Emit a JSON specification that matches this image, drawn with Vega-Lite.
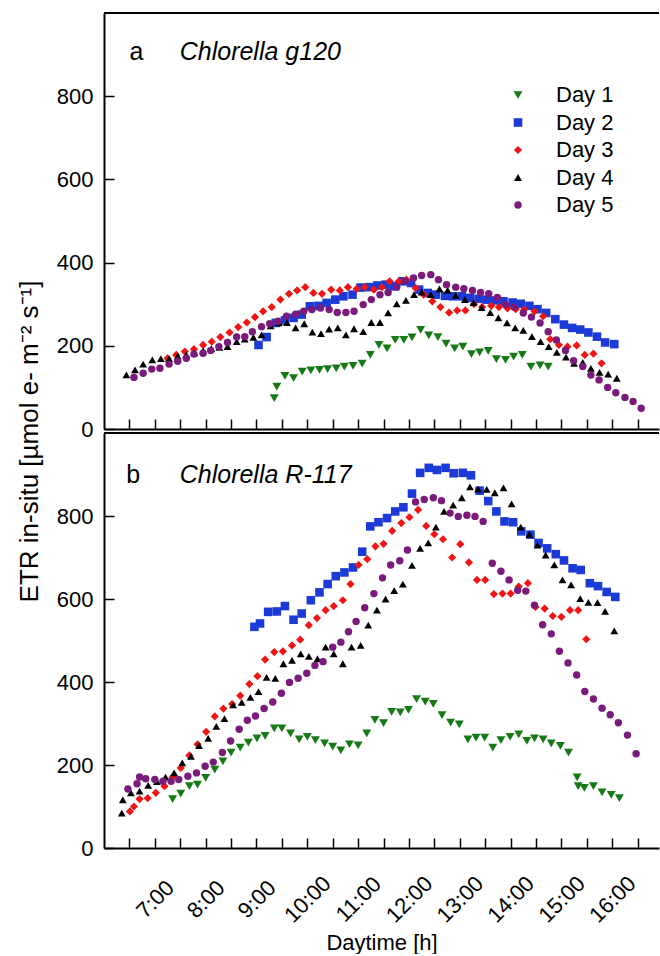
{
  "$schema": "https://vega.github.io/schema/vega-lite/v6.json",
  "padding": {"left": 16, "top": 12, "right": 0, "bottom": 0},
  "bounds": "flush",
  "spacing": 4,
  "config": {
    "font": "Liberation Sans",
    "view": {"stroke": null},
    "axis": {"grid": false, "domainColor": "black", "domainWidth": 2, "tickColor": "black", "tickWidth": 1.5, "tickSize": -10, "labelFont": "Liberation Sans", "labelFontSize": 22, "labelColor": "black", "titleFont": "Liberation Sans", "titleFontWeight": "normal", "titleColor": "black"},
    "legend": {"labelFont": "Liberation Sans"}
  },
  "datasets": {
    "a": [
      {"d":"Day 1","t":9.35,"v":74},{"d":"Day 1","t":9.4,"v":102},{"d":"Day 1","t":9.56,"v":128},{"d":"Day 1","t":9.73,"v":122},{"d":"Day 1","t":9.9,"v":138},{"d":"Day 1","t":10.07,"v":141},{"d":"Day 1","t":10.24,"v":142},{"d":"Day 1","t":10.4,"v":144},{"d":"Day 1","t":10.57,"v":146},{"d":"Day 1","t":10.73,"v":150},{"d":"Day 1","t":10.9,"v":152},{"d":"Day 1","t":11.08,"v":157},{"d":"Day 1","t":11.24,"v":178},{"d":"Day 1","t":11.41,"v":202},{"d":"Day 1","t":11.57,"v":194},{"d":"Day 1","t":11.73,"v":214},{"d":"Day 1","t":11.9,"v":214},{"d":"Day 1","t":12.06,"v":220},{"d":"Day 1","t":12.23,"v":238},{"d":"Day 1","t":12.39,"v":225},{"d":"Day 1","t":12.57,"v":221},{"d":"Day 1","t":12.73,"v":205},{"d":"Day 1","t":12.9,"v":194},{"d":"Day 1","t":13.06,"v":198},{"d":"Day 1","t":13.23,"v":180},{"d":"Day 1","t":13.39,"v":184},{"d":"Day 1","t":13.56,"v":188},{"d":"Day 1","t":13.72,"v":168},{"d":"Day 1","t":13.9,"v":166},{"d":"Day 1","t":14.06,"v":174},{"d":"Day 1","t":14.23,"v":178},{"d":"Day 1","t":14.4,"v":150},{"d":"Day 1","t":14.58,"v":153},{"d":"Day 1","t":14.74,"v":150},
      {"d":"Day 2","t":9.04,"v":202},{"d":"Day 2","t":9.2,"v":221},{"d":"Day 2","t":9.38,"v":255},{"d":"Day 2","t":9.56,"v":261},{"d":"Day 2","t":9.73,"v":267},{"d":"Day 2","t":9.89,"v":275},{"d":"Day 2","t":10.05,"v":295},{"d":"Day 2","t":10.22,"v":296},{"d":"Day 2","t":10.38,"v":303},{"d":"Day 2","t":10.55,"v":311},{"d":"Day 2","t":10.71,"v":319},{"d":"Day 2","t":10.89,"v":323},{"d":"Day 2","t":11.05,"v":340},{"d":"Day 2","t":11.22,"v":341},{"d":"Day 2","t":11.38,"v":345},{"d":"Day 2","t":11.54,"v":347},{"d":"Day 2","t":11.71,"v":343},{"d":"Day 2","t":11.87,"v":355},{"d":"Day 2","t":12.04,"v":351},{"d":"Day 2","t":12.2,"v":335},{"d":"Day 2","t":12.37,"v":327},{"d":"Day 2","t":12.53,"v":323},{"d":"Day 2","t":12.71,"v":320},{"d":"Day 2","t":12.87,"v":319},{"d":"Day 2","t":13.04,"v":319},{"d":"Day 2","t":13.2,"v":315},{"d":"Day 2","t":13.37,"v":313},{"d":"Day 2","t":13.53,"v":311},{"d":"Day 2","t":13.7,"v":309},{"d":"Day 2","t":13.86,"v":307},{"d":"Day 2","t":14.04,"v":304},{"d":"Day 2","t":14.2,"v":301},{"d":"Day 2","t":14.37,"v":296},{"d":"Day 2","t":14.53,"v":288},{"d":"Day 2","t":14.7,"v":279},{"d":"Day 2","t":14.88,"v":264},{"d":"Day 2","t":15.05,"v":251},{"d":"Day 2","t":15.21,"v":243},{"d":"Day 2","t":15.37,"v":239},{"d":"Day 2","t":15.53,"v":232},{"d":"Day 2","t":15.7,"v":222},{"d":"Day 2","t":15.86,"v":208},{"d":"Day 2","t":16.04,"v":204},
      {"d":"Day 3","t":7.25,"v":170},{"d":"Day 3","t":7.42,"v":178},{"d":"Day 3","t":7.59,"v":186},{"d":"Day 3","t":7.77,"v":192},{"d":"Day 3","t":7.95,"v":202},{"d":"Day 3","t":8.12,"v":210},{"d":"Day 3","t":8.29,"v":221},{"d":"Day 3","t":8.47,"v":232},{"d":"Day 3","t":8.64,"v":245},{"d":"Day 3","t":8.81,"v":256},{"d":"Day 3","t":8.97,"v":269},{"d":"Day 3","t":9.13,"v":283},{"d":"Day 3","t":9.3,"v":293},{"d":"Day 3","t":9.47,"v":311},{"d":"Day 3","t":9.64,"v":325},{"d":"Day 3","t":9.8,"v":333},{"d":"Day 3","t":9.96,"v":341},{"d":"Day 3","t":10.12,"v":327},{"d":"Day 3","t":10.29,"v":325},{"d":"Day 3","t":10.47,"v":335},{"d":"Day 3","t":10.64,"v":333},{"d":"Day 3","t":10.8,"v":341},{"d":"Day 3","t":10.97,"v":337},{"d":"Day 3","t":11.13,"v":341},{"d":"Day 3","t":11.31,"v":335},{"d":"Day 3","t":11.47,"v":341},{"d":"Day 3","t":11.62,"v":355},{"d":"Day 3","t":11.8,"v":355},{"d":"Day 3","t":11.95,"v":359},{"d":"Day 3","t":12.13,"v":339},{"d":"Day 3","t":12.29,"v":323},{"d":"Day 3","t":12.46,"v":307},{"d":"Day 3","t":12.62,"v":293},{"d":"Day 3","t":12.79,"v":280},{"d":"Day 3","t":12.95,"v":285},{"d":"Day 3","t":13.11,"v":285},{"d":"Day 3","t":13.28,"v":300},{"d":"Day 3","t":13.44,"v":293},{"d":"Day 3","t":13.62,"v":296},{"d":"Day 3","t":13.77,"v":293},{"d":"Day 3","t":13.94,"v":290},{"d":"Day 3","t":14.1,"v":288},{"d":"Day 3","t":14.27,"v":287},{"d":"Day 3","t":14.47,"v":283},{"d":"Day 3","t":14.64,"v":271},{"d":"Day 3","t":14.78,"v":216},{"d":"Day 3","t":14.95,"v":202},{"d":"Day 3","t":15.12,"v":198},{"d":"Day 3","t":15.3,"v":201},{"d":"Day 3","t":15.46,"v":178},{"d":"Day 3","t":15.63,"v":181},{"d":"Day 3","t":15.79,"v":158},
      {"d":"Day 4","t":6.44,"v":130},{"d":"Day 4","t":6.61,"v":142},{"d":"Day 4","t":6.77,"v":156},{"d":"Day 4","t":6.95,"v":166},{"d":"Day 4","t":7.12,"v":169},{"d":"Day 4","t":7.28,"v":169},{"d":"Day 4","t":7.45,"v":175},{"d":"Day 4","t":7.62,"v":178},{"d":"Day 4","t":7.78,"v":183},{"d":"Day 4","t":7.95,"v":188},{"d":"Day 4","t":8.11,"v":193},{"d":"Day 4","t":8.27,"v":196},{"d":"Day 4","t":8.43,"v":198},{"d":"Day 4","t":8.61,"v":210},{"d":"Day 4","t":8.77,"v":216},{"d":"Day 4","t":8.94,"v":220},{"d":"Day 4","t":9.1,"v":226},{"d":"Day 4","t":9.28,"v":248},{"d":"Day 4","t":9.44,"v":255},{"d":"Day 4","t":9.6,"v":256},{"d":"Day 4","t":9.77,"v":243},{"d":"Day 4","t":9.94,"v":253},{"d":"Day 4","t":10.1,"v":233},{"d":"Day 4","t":10.27,"v":229},{"d":"Day 4","t":10.43,"v":240},{"d":"Day 4","t":10.6,"v":243},{"d":"Day 4","t":10.76,"v":226},{"d":"Day 4","t":10.92,"v":241},{"d":"Day 4","t":11.1,"v":234},{"d":"Day 4","t":11.26,"v":256},{"d":"Day 4","t":11.43,"v":256},{"d":"Day 4","t":11.59,"v":279},{"d":"Day 4","t":11.76,"v":301},{"d":"Day 4","t":11.94,"v":309},{"d":"Day 4","t":12.1,"v":323},{"d":"Day 4","t":12.25,"v":329},{"d":"Day 4","t":12.43,"v":323},{"d":"Day 4","t":12.6,"v":337},{"d":"Day 4","t":12.76,"v":333},{"d":"Day 4","t":12.92,"v":321},{"d":"Day 4","t":13.1,"v":311},{"d":"Day 4","t":13.27,"v":304},{"d":"Day 4","t":13.43,"v":292},{"d":"Day 4","t":13.6,"v":280},{"d":"Day 4","t":13.76,"v":267},{"d":"Day 4","t":13.93,"v":255},{"d":"Day 4","t":14.09,"v":243},{"d":"Day 4","t":14.25,"v":237},{"d":"Day 4","t":14.42,"v":222},{"d":"Day 4","t":14.59,"v":210},{"d":"Day 4","t":14.75,"v":198},{"d":"Day 4","t":14.91,"v":184},{"d":"Day 4","t":15.09,"v":173},{"d":"Day 4","t":15.25,"v":158},{"d":"Day 4","t":15.42,"v":160},{"d":"Day 4","t":15.58,"v":146},{"d":"Day 4","t":15.75,"v":136},{"d":"Day 4","t":15.92,"v":132},{"d":"Day 4","t":16.09,"v":122},
      {"d":"Day 5","t":6.59,"v":124},{"d":"Day 5","t":6.77,"v":134},{"d":"Day 5","t":6.94,"v":144},{"d":"Day 5","t":7.1,"v":146},{"d":"Day 5","t":7.28,"v":156},{"d":"Day 5","t":7.45,"v":163},{"d":"Day 5","t":7.62,"v":170},{"d":"Day 5","t":7.77,"v":180},{"d":"Day 5","t":7.95,"v":182},{"d":"Day 5","t":8.1,"v":189},{"d":"Day 5","t":8.26,"v":198},{"d":"Day 5","t":8.43,"v":208},{"d":"Day 5","t":8.61,"v":221},{"d":"Day 5","t":8.77,"v":222},{"d":"Day 5","t":8.92,"v":234},{"d":"Day 5","t":9.1,"v":246},{"d":"Day 5","t":9.26,"v":253},{"d":"Day 5","t":9.42,"v":259},{"d":"Day 5","t":9.59,"v":271},{"d":"Day 5","t":9.77,"v":276},{"d":"Day 5","t":9.93,"v":283},{"d":"Day 5","t":10.09,"v":287},{"d":"Day 5","t":10.26,"v":291},{"d":"Day 5","t":10.43,"v":287},{"d":"Day 5","t":10.59,"v":280},{"d":"Day 5","t":10.76,"v":280},{"d":"Day 5","t":10.92,"v":283},{"d":"Day 5","t":11.1,"v":299},{"d":"Day 5","t":11.26,"v":311},{"d":"Day 5","t":11.43,"v":323},{"d":"Day 5","t":11.59,"v":328},{"d":"Day 5","t":11.76,"v":341},{"d":"Day 5","t":11.92,"v":355},{"d":"Day 5","t":12.09,"v":363},{"d":"Day 5","t":12.25,"v":369},{"d":"Day 5","t":12.43,"v":371},{"d":"Day 5","t":12.58,"v":359},{"d":"Day 5","t":12.74,"v":347},{"d":"Day 5","t":12.92,"v":341},{"d":"Day 5","t":13.08,"v":337},{"d":"Day 5","t":13.25,"v":333},{"d":"Day 5","t":13.41,"v":328},{"d":"Day 5","t":13.57,"v":325},{"d":"Day 5","t":13.74,"v":316},{"d":"Day 5","t":13.9,"v":299},{"d":"Day 5","t":14.07,"v":293},{"d":"Day 5","t":14.25,"v":279},{"d":"Day 5","t":14.41,"v":269},{"d":"Day 5","t":14.58,"v":255},{"d":"Day 5","t":14.74,"v":234},{"d":"Day 5","t":14.9,"v":214},{"d":"Day 5","t":15.08,"v":189},{"d":"Day 5","t":15.24,"v":164},{"d":"Day 5","t":15.42,"v":150},{"d":"Day 5","t":15.58,"v":130},{"d":"Day 5","t":15.74,"v":118},{"d":"Day 5","t":15.91,"v":100},{"d":"Day 5","t":16.07,"v":87},{"d":"Day 5","t":16.25,"v":76},{"d":"Day 5","t":16.41,"v":66},{"d":"Day 5","t":16.57,"v":50}
    ],
    "b": [
      {"d":"Day 1","t":7.35,"v":118},{"d":"Day 1","t":7.51,"v":131},{"d":"Day 1","t":7.68,"v":149},{"d":"Day 1","t":7.84,"v":153},{"d":"Day 1","t":8.0,"v":169},{"d":"Day 1","t":8.18,"v":189},{"d":"Day 1","t":8.34,"v":209},{"d":"Day 1","t":8.5,"v":230},{"d":"Day 1","t":8.68,"v":242},{"d":"Day 1","t":8.84,"v":254},{"d":"Day 1","t":9.01,"v":264},{"d":"Day 1","t":9.17,"v":270},{"d":"Day 1","t":9.35,"v":288},{"d":"Day 1","t":9.5,"v":288},{"d":"Day 1","t":9.67,"v":276},{"d":"Day 1","t":9.84,"v":262},{"d":"Day 1","t":10.0,"v":268},{"d":"Day 1","t":10.16,"v":260},{"d":"Day 1","t":10.34,"v":252},{"d":"Day 1","t":10.5,"v":244},{"d":"Day 1","t":10.66,"v":235},{"d":"Day 1","t":10.83,"v":250},{"d":"Day 1","t":11.0,"v":247},{"d":"Day 1","t":11.17,"v":276},{"d":"Day 1","t":11.33,"v":309},{"d":"Day 1","t":11.5,"v":301},{"d":"Day 1","t":11.66,"v":328},{"d":"Day 1","t":11.83,"v":327},{"d":"Day 1","t":11.99,"v":333},{"d":"Day 1","t":12.15,"v":359},{"d":"Day 1","t":12.32,"v":353},{"d":"Day 1","t":12.48,"v":347},{"d":"Day 1","t":12.65,"v":320},{"d":"Day 1","t":12.82,"v":302},{"d":"Day 1","t":12.99,"v":298},{"d":"Day 1","t":13.16,"v":262},{"d":"Day 1","t":13.32,"v":266},{"d":"Day 1","t":13.49,"v":266},{"d":"Day 1","t":13.65,"v":242},{"d":"Day 1","t":13.81,"v":260},{"d":"Day 1","t":13.99,"v":268},{"d":"Day 1","t":14.16,"v":274},{"d":"Day 1","t":14.32,"v":258},{"d":"Day 1","t":14.47,"v":264},{"d":"Day 1","t":14.64,"v":262},{"d":"Day 1","t":14.8,"v":252},{"d":"Day 1","t":14.98,"v":246},{"d":"Day 1","t":15.14,"v":230},{"d":"Day 1","t":15.31,"v":170},{"d":"Day 1","t":15.33,"v":149},{"d":"Day 1","t":15.45,"v":145},{"d":"Day 1","t":15.63,"v":149},{"d":"Day 1","t":15.8,"v":134},{"d":"Day 1","t":15.98,"v":128},{"d":"Day 1","t":16.14,"v":120},
      {"d":"Day 2","t":8.96,"v":533},{"d":"Day 2","t":9.07,"v":541},{"d":"Day 2","t":9.23,"v":569},{"d":"Day 2","t":9.4,"v":570},{"d":"Day 2","t":9.56,"v":583},{"d":"Day 2","t":9.73,"v":550},{"d":"Day 2","t":9.89,"v":565},{"d":"Day 2","t":10.07,"v":597},{"d":"Day 2","t":10.24,"v":616},{"d":"Day 2","t":10.4,"v":636},{"d":"Day 2","t":10.56,"v":655},{"d":"Day 2","t":10.73,"v":664},{"d":"Day 2","t":10.9,"v":676},{"d":"Day 2","t":11.08,"v":714},{"d":"Day 2","t":11.24,"v":775},{"d":"Day 2","t":11.4,"v":785},{"d":"Day 2","t":11.57,"v":795},{"d":"Day 2","t":11.73,"v":811},{"d":"Day 2","t":11.89,"v":821},{"d":"Day 2","t":12.06,"v":854},{"d":"Day 2","t":12.22,"v":904},{"d":"Day 2","t":12.39,"v":916},{"d":"Day 2","t":12.55,"v":911},{"d":"Day 2","t":12.72,"v":916},{"d":"Day 2","t":12.88,"v":903},{"d":"Day 2","t":13.06,"v":904},{"d":"Day 2","t":13.22,"v":898},{"d":"Day 2","t":13.39,"v":861},{"d":"Day 2","t":13.56,"v":836},{"d":"Day 2","t":13.72,"v":811},{"d":"Day 2","t":13.88,"v":787},{"d":"Day 2","t":14.05,"v":785},{"d":"Day 2","t":14.21,"v":763},{"d":"Day 2","t":14.39,"v":755},{"d":"Day 2","t":14.55,"v":735},{"d":"Day 2","t":14.72,"v":722},{"d":"Day 2","t":14.89,"v":708},{"d":"Day 2","t":15.05,"v":693},{"d":"Day 2","t":15.22,"v":674},{"d":"Day 2","t":15.38,"v":670},{"d":"Day 2","t":15.56,"v":638},{"d":"Day 2","t":15.72,"v":631},{"d":"Day 2","t":15.89,"v":617},{"d":"Day 2","t":16.06,"v":605},
      {"d":"Day 3","t":6.51,"v":88},{"d":"Day 3","t":6.59,"v":100},{"d":"Day 3","t":6.7,"v":118},{"d":"Day 3","t":6.86,"v":120},{"d":"Day 3","t":7.02,"v":133},{"d":"Day 3","t":7.19,"v":149},{"d":"Day 3","t":7.35,"v":171},{"d":"Day 3","t":7.51,"v":193},{"d":"Day 3","t":7.68,"v":223},{"d":"Day 3","t":7.84,"v":250},{"d":"Day 3","t":8.01,"v":280},{"d":"Day 3","t":8.18,"v":317},{"d":"Day 3","t":8.35,"v":336},{"d":"Day 3","t":8.52,"v":347},{"d":"Day 3","t":8.68,"v":367},{"d":"Day 3","t":8.86,"v":395},{"d":"Day 3","t":9.02,"v":414},{"d":"Day 3","t":9.17,"v":454},{"d":"Day 3","t":9.35,"v":472},{"d":"Day 3","t":9.52,"v":474},{"d":"Day 3","t":9.7,"v":488},{"d":"Day 3","t":9.86,"v":502},{"d":"Day 3","t":10.03,"v":537},{"d":"Day 3","t":10.19,"v":554},{"d":"Day 3","t":10.36,"v":573},{"d":"Day 3","t":10.52,"v":583},{"d":"Day 3","t":10.7,"v":597},{"d":"Day 3","t":10.85,"v":636},{"d":"Day 3","t":11.01,"v":682},{"d":"Day 3","t":11.18,"v":696},{"d":"Day 3","t":11.34,"v":727},{"d":"Day 3","t":11.5,"v":733},{"d":"Day 3","t":11.67,"v":764},{"d":"Day 3","t":11.85,"v":783},{"d":"Day 3","t":12.01,"v":797},{"d":"Day 3","t":12.18,"v":815},{"d":"Day 3","t":12.34,"v":776},{"d":"Day 3","t":12.5,"v":756},{"d":"Day 3","t":12.67,"v":744},{"d":"Day 3","t":12.85,"v":700},{"d":"Day 3","t":13.01,"v":732},{"d":"Day 3","t":13.18,"v":688},{"d":"Day 3","t":13.34,"v":646},{"d":"Day 3","t":13.5,"v":646},{"d":"Day 3","t":13.67,"v":612},{"d":"Day 3","t":13.84,"v":613},{"d":"Day 3","t":14.0,"v":613},{"d":"Day 3","t":14.16,"v":630},{"d":"Day 3","t":14.34,"v":638},{"d":"Day 3","t":14.49,"v":581},{"d":"Day 3","t":14.67,"v":577},{"d":"Day 3","t":14.83,"v":559},{"d":"Day 3","t":15.0,"v":557},{"d":"Day 3","t":15.17,"v":573},{"d":"Day 3","t":15.33,"v":573},{"d":"Day 3","t":15.49,"v":503},
      {"d":"Day 4","t":6.35,"v":84},{"d":"Day 4","t":6.37,"v":116},{"d":"Day 4","t":6.53,"v":133},{"d":"Day 4","t":6.7,"v":137},{"d":"Day 4","t":6.87,"v":151},{"d":"Day 4","t":7.04,"v":160},{"d":"Day 4","t":7.21,"v":171},{"d":"Day 4","t":7.38,"v":181},{"d":"Day 4","t":7.54,"v":205},{"d":"Day 4","t":7.71,"v":221},{"d":"Day 4","t":7.87,"v":247},{"d":"Day 4","t":8.05,"v":264},{"d":"Day 4","t":8.21,"v":293},{"d":"Day 4","t":8.37,"v":312},{"d":"Day 4","t":8.54,"v":345},{"d":"Day 4","t":8.71,"v":351},{"d":"Day 4","t":8.88,"v":363},{"d":"Day 4","t":9.04,"v":377},{"d":"Day 4","t":9.2,"v":411},{"d":"Day 4","t":9.37,"v":409},{"d":"Day 4","t":9.53,"v":444},{"d":"Day 4","t":9.7,"v":452},{"d":"Day 4","t":9.87,"v":468},{"d":"Day 4","t":10.03,"v":462},{"d":"Day 4","t":10.2,"v":456},{"d":"Day 4","t":10.36,"v":484},{"d":"Day 4","t":10.52,"v":468},{"d":"Day 4","t":10.7,"v":444},{"d":"Day 4","t":10.87,"v":484},{"d":"Day 4","t":11.05,"v":488},{"d":"Day 4","t":11.2,"v":537},{"d":"Day 4","t":11.37,"v":573},{"d":"Day 4","t":11.54,"v":600},{"d":"Day 4","t":11.71,"v":620},{"d":"Day 4","t":11.88,"v":636},{"d":"Day 4","t":12.06,"v":681},{"d":"Day 4","t":12.22,"v":722},{"d":"Day 4","t":12.38,"v":735},{"d":"Day 4","t":12.53,"v":773},{"d":"Day 4","t":12.69,"v":811},{"d":"Day 4","t":12.87,"v":826},{"d":"Day 4","t":13.04,"v":844},{"d":"Day 4","t":13.2,"v":870},{"d":"Day 4","t":13.36,"v":865},{"d":"Day 4","t":13.53,"v":864},{"d":"Day 4","t":13.69,"v":856},{"d":"Day 4","t":13.86,"v":868},{"d":"Day 4","t":14.02,"v":829},{"d":"Day 4","t":14.2,"v":773},{"d":"Day 4","t":14.37,"v":756},{"d":"Day 4","t":14.53,"v":730},{"d":"Day 4","t":14.69,"v":706},{"d":"Day 4","t":14.86,"v":682},{"d":"Day 4","t":15.02,"v":646},{"d":"Day 4","t":15.19,"v":634},{"d":"Day 4","t":15.37,"v":601},{"d":"Day 4","t":15.53,"v":592},{"d":"Day 4","t":15.71,"v":591},{"d":"Day 4","t":15.86,"v":570},{"d":"Day 4","t":16.04,"v":523},
      {"d":"Day 5","t":6.47,"v":142},{"d":"Day 5","t":6.65,"v":155},{"d":"Day 5","t":6.7,"v":171},{"d":"Day 5","t":6.82,"v":167},{"d":"Day 5","t":7.0,"v":165},{"d":"Day 5","t":7.16,"v":161},{"d":"Day 5","t":7.32,"v":161},{"d":"Day 5","t":7.47,"v":165},{"d":"Day 5","t":7.65,"v":173},{"d":"Day 5","t":7.82,"v":181},{"d":"Day 5","t":7.99,"v":197},{"d":"Day 5","t":8.15,"v":207},{"d":"Day 5","t":8.33,"v":230},{"d":"Day 5","t":8.49,"v":258},{"d":"Day 5","t":8.66,"v":286},{"d":"Day 5","t":8.82,"v":308},{"d":"Day 5","t":8.98,"v":318},{"d":"Day 5","t":9.15,"v":336},{"d":"Day 5","t":9.32,"v":352},{"d":"Day 5","t":9.49,"v":373},{"d":"Day 5","t":9.65,"v":399},{"d":"Day 5","t":9.82,"v":409},{"d":"Day 5","t":9.99,"v":421},{"d":"Day 5","t":10.15,"v":440},{"d":"Day 5","t":10.31,"v":449},{"d":"Day 5","t":10.5,"v":484},{"d":"Day 5","t":10.66,"v":496},{"d":"Day 5","t":10.81,"v":521},{"d":"Day 5","t":10.96,"v":546},{"d":"Day 5","t":11.13,"v":579},{"d":"Day 5","t":11.31,"v":613},{"d":"Day 5","t":11.48,"v":651},{"d":"Day 5","t":11.64,"v":682},{"d":"Day 5","t":11.82,"v":692},{"d":"Day 5","t":11.97,"v":718},{"d":"Day 5","t":12.13,"v":834},{"d":"Day 5","t":12.3,"v":840},{"d":"Day 5","t":12.48,"v":844},{"d":"Day 5","t":12.64,"v":837},{"d":"Day 5","t":12.81,"v":807},{"d":"Day 5","t":12.97,"v":799},{"d":"Day 5","t":13.14,"v":802},{"d":"Day 5","t":13.3,"v":799},{"d":"Day 5","t":13.46,"v":787},{"d":"Day 5","t":13.64,"v":686},{"d":"Day 5","t":13.81,"v":667},{"d":"Day 5","t":13.97,"v":646},{"d":"Day 5","t":14.14,"v":621},{"d":"Day 5","t":14.3,"v":619},{"d":"Day 5","t":14.47,"v":585},{"d":"Day 5","t":14.63,"v":538},{"d":"Day 5","t":14.8,"v":516},{"d":"Day 5","t":14.96,"v":474},{"d":"Day 5","t":15.13,"v":446},{"d":"Day 5","t":15.3,"v":417},{"d":"Day 5","t":15.46,"v":377},{"d":"Day 5","t":15.63,"v":359},{"d":"Day 5","t":15.8,"v":337},{"d":"Day 5","t":15.96,"v":321},{"d":"Day 5","t":16.12,"v":302},{"d":"Day 5","t":16.3,"v":272},{"d":"Day 5","t":16.47,"v":227}
    ]
  },
  "resolve": {"legend": {"color": "independent", "shape": "independent", "size": "independent"}},
  "vconcat": [
    {
      "width": 555,
      "height": 416,
      "layer": [
        {
          "data": {"name": "a"},
          "mark": {"type": "point", "filled": true, "opacity": 1},
          "encoding": {
            "x": {"field": "t", "type": "quantitative", "scale": {"domain": [6, 16.92], "nice": false, "zero": false},
                  "axis": {"values": [6.5,7,7.5,8,8.5,9,9.5,10,10.5,11,11.5,12,12.5,13,13.5,14,14.5,15,15.5,16,16.5], "tickCount": 40, "labels": false, "title": null}},
            "y": {"field": "v", "type": "quantitative", "scale": {"domain": [0, 1000], "nice": false},
                  "axis": {"values": [0,200,400,600,800], "title": null, "labelPadding": 21}},
            "color": {"field": "d", "type": "nominal",
                      "scale": {"domain": ["Day 1","Day 2","Day 3","Day 4","Day 5"], "range": ["#157a15","#1c3ad6","#f01414","#000000","#7a1a7a"]},
                      "legend": {"orient": "none", "legendX": 403, "legendY": 71, "title": null, "labelFontSize": 22, "symbolSize": 50, "rowPadding": 5.5, "labelOffset": 27, "symbolStrokeWidth": 0, "padding": 0}},
            "shape": {"field": "d", "type": "nominal",
                      "scale": {"domain": ["Day 1","Day 2","Day 3","Day 4","Day 5"], "range": ["triangle-down","square","diamond","triangle-up","circle"]},
                      "legend": {"orient": "none", "legendX": 403, "legendY": 71, "title": null, "labelFontSize": 22, "symbolSize": 50, "rowPadding": 5.5, "labelOffset": 27, "symbolStrokeWidth": 0, "padding": 0}},
            "size": {"field": "d", "type": "nominal",
                     "scale": {"domain": ["Day 1","Day 2","Day 3","Day 4","Day 5"], "range": [80,55,80,75,85]}, "legend": null}
          }
        },
        {
          "data": {"values": [{}]},
          "mark": {"type": "rule", "strokeWidth": 2, "color": "black"},
          "encoding": {"y": {"datum": 1000}}
        },
        {
          "data": {"values": [{}]},
          "mark": {"type": "text", "align": "left", "baseline": "alphabetic", "fontSize": 25, "font": "Liberation Sans", "color": "black"},
          "encoding": {"x": {"datum": 6.5}, "y": {"datum": 887}, "text": {"value": "a"}}
        },
        {
          "data": {"values": [{}]},
          "mark": {"type": "text", "align": "left", "baseline": "alphabetic", "fontSize": 25, "fontStyle": "italic", "font": "Liberation Sans", "color": "black"},
          "encoding": {"x": {"datum": 7.49}, "y": {"datum": 887}, "text": {"value": "Chlorella g120"}}
        }
      ]
    },
    {
      "width": 555,
      "height": 415,
      "layer": [
        {
          "data": {"name": "b"},
          "mark": {"type": "point", "filled": true, "opacity": 1},
          "encoding": {
            "x": {"field": "t", "type": "quantitative", "scale": {"domain": [6, 16.92], "nice": false, "zero": false},
                  "axis": {"values": [6.5,7,7.5,8,8.5,9,9.5,10,10.5,11,11.5,12,12.5,13,13.5,14,14.5,15,15.5,16,16.5], "tickCount": 40,
                           "labelExpr": "floor(datum.value) == datum.value ? floor(datum.value) + ':00' : ''",
                           "labelAngle": -45, "labelAlign": "center", "labelBaseline": "middle", "labelPadding": 61,
                           "labelOverlap": false, "labelFlush": false,
                           "title": "Daytime [h]", "titleFontSize": 22, "titlePadding": 6}},
            "y": {"field": "v", "type": "quantitative", "scale": {"domain": [0, 1000], "nice": false},
                  "axis": {"values": [0,200,400,600,800], "labelPadding": 21, "title": "ETR in-situ [µmol e- m⁻² s⁻¹]", "titleFontSize": 26, "titleY": 8, "titlePadding": 14}},
            "color": {"field": "d", "type": "nominal",
                      "scale": {"domain": ["Day 1","Day 2","Day 3","Day 4","Day 5"], "range": ["#157a15","#1c3ad6","#f01414","#000000","#7a1a7a"]}, "legend": null},
            "shape": {"field": "d", "type": "nominal",
                      "scale": {"domain": ["Day 1","Day 2","Day 3","Day 4","Day 5"], "range": ["triangle-down","square","diamond","triangle-up","circle"]}, "legend": null},
            "size": {"field": "d", "type": "nominal",
                     "scale": {"domain": ["Day 1","Day 2","Day 3","Day 4","Day 5"], "range": [80,55,80,75,85]}, "legend": null}
          }
        },
        {
          "data": {"values": [{}]},
          "mark": {"type": "rule", "strokeWidth": 2, "color": "black"},
          "encoding": {"y": {"datum": 1000}}
        },
        {
          "data": {"values": [{}]},
          "mark": {"type": "text", "align": "left", "baseline": "alphabetic", "fontSize": 25, "font": "Liberation Sans", "color": "black"},
          "encoding": {"x": {"datum": 6.44}, "y": {"datum": 880}, "text": {"value": "b"}}
        },
        {
          "data": {"values": [{}]},
          "mark": {"type": "text", "align": "left", "baseline": "alphabetic", "fontSize": 25, "fontStyle": "italic", "font": "Liberation Sans", "color": "black"},
          "encoding": {"x": {"datum": 7.49}, "y": {"datum": 880}, "text": {"value": "Chlorella R-117"}}
        }
      ]
    }
  ]
}
